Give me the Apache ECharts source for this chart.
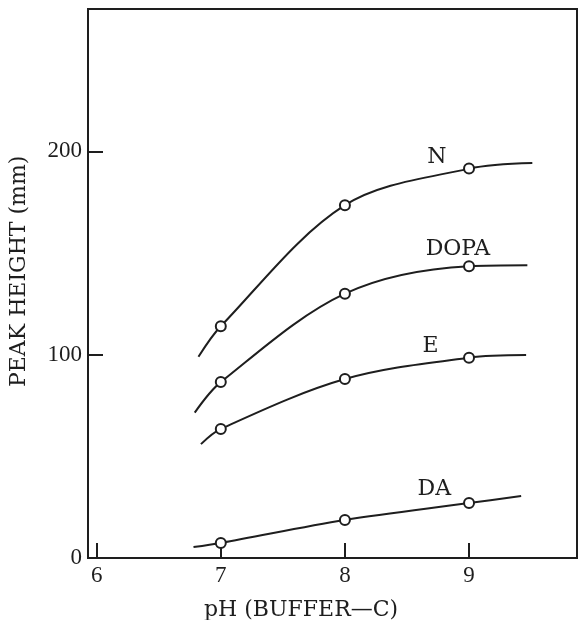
<!DOCTYPE html>
<html>
<head>
<meta charset="utf-8">
<script src="https://cdn.jsdelivr.net/npm/echarts@6/dist/echarts.min.js"></script>
<style>
html,body{margin:0;padding:0;background:#fff;}
#chart{width:578px;height:620px;}
</style>
</head>
<body>
<div id="chart"></div>
<script>
// Measured pH values
const phPoints = [7, 8, 9];
// Peak heights (mm) at measured pH
const nValues = [114, 173.5, 191.5];
const dopaValues = [86.5, 130, 143.5];
const eValues = [63.5, 88, 98.5];
const daValues = [7.4, 18.7, 27];
// Curve extension ends [pH, height]
const nCurveStart = [6.82, 99];
const nCurveEnd = [9.51, 194.3];
const dopaCurveStart = [6.79, 71.5];
const dopaCurveEnd = [9.47, 144];
const eCurveStart = [6.84, 56];
const eCurveEnd = [9.46, 99.8];
const daCurveStart = [6.78, 5.4];
const daCurveEnd = [9.42, 30.5];
// Curve names and label anchor positions [pH, height]
const seriesNames = ['N', 'DOPA', 'E', 'DA'];
const labelPositions = [[8.74, 197], [8.91, 152], [8.69, 104], [8.72, 34]];
// Axis ticks
const xTicks = [6, 7, 8, 9];
const yTicks = [0, 100, 200];
const xAxisTitle = 'pH (BUFFER\u2014C)';
const yAxisTitle = 'PEAK HEIGHT (mm)';

const INK = '#1e1e1e';
const FONT = '"Liberation Serif", "DejaVu Serif", serif';
const WIDE = '"DejaVu Serif", "Liberation Serif", serif';

function curve(start, vals, end) {
  const d = [{value: start, symbol: 'none'}];
  phPoints.forEach((x, i) => d.push({value: [x, vals[i]]}));
  d.push({value: end, symbol: 'none'});
  return d;
}
const curves = [
  curve(nCurveStart, nValues, nCurveEnd),
  curve(dopaCurveStart, dopaValues, dopaCurveEnd),
  curve(eCurveStart, eValues, eCurveEnd),
  curve(daCurveStart, daValues, daCurveEnd)
];

const series = curves.map((data, i) => ({
  name: seriesNames[i],
  type: 'line',
  smooth: 0.33,
  data: data,
  symbol: 'circle',
  symbolSize: 10,
  showSymbol: true,
  itemStyle: {color: '#fff', borderColor: INK, borderWidth: 2},
  lineStyle: {color: INK, width: 2},
  z: 3,
  markPoint: {
    symbol: 'circle',
    symbolSize: 0,
    silent: true,
    data: [{coord: labelPositions[i], value: seriesNames[i]}],
    label: {
      show: true,
      position: 'inside',
      formatter: seriesNames[i],
      color: INK,
      fontFamily: WIDE,
      fontSize: 22
    }
  }
}));

const chart = echarts.init(document.getElementById('chart'), null, {renderer: 'canvas'});
chart.setOption({
  backgroundColor: '#fff',
  animation: false,
  grid: {left: 88, right: 1, top: 9, bottom: 62, show: true, borderColor: INK, borderWidth: 2, backgroundColor: 'transparent'},
  xAxis: {
    type: 'value',
    min: 5.93, max: 9.87,
    axisLine: {show: false},
    splitLine: {show: false},
    axisTick: {show: true, inside: true, length: 15, customValues: xTicks, lineStyle: {color: INK, width: 2}},
    axisLabel: {customValues: xTicks, margin: 6, color: INK, fontFamily: FONT, fontSize: 23}
  },
  yAxis: {
    type: 'value',
    min: 0, max: 270,
    axisLine: {show: false},
    splitLine: {show: false},
    axisTick: {show: true, inside: true, length: 15, customValues: yTicks, lineStyle: {color: INK, width: 2}},
    axisLabel: {customValues: yTicks, margin: 6, color: INK, fontFamily: FONT, fontSize: 23}
  },
  graphic: [
    {type: 'text', left: 204, top: 599, style: {text: xAxisTitle, fill: INK, font: '22px ' + WIDE}},
    {type: 'text', x: 8, y: 387, rotation: Math.PI / 2, style: {text: yAxisTitle, fill: INK, font: '22px ' + WIDE}}
  ],
  series: series
});
</script>
</body>
</html>
